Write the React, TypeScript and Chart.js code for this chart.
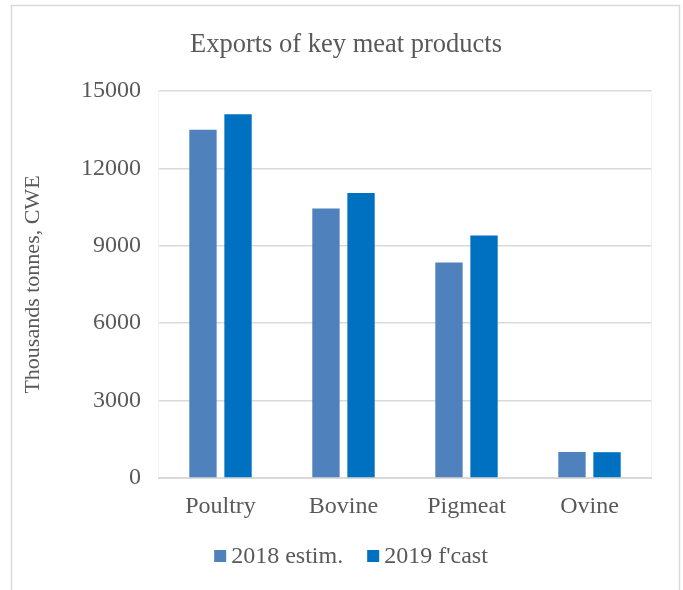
import React, { useEffect, useRef } from 'react';
import { Chart, registerables } from 'chart.js';

Chart.register(...registerables);

const categories = ['Poultry', 'Bovine', 'Pigmeat', 'Ovine'];
const series2018 = [13500, 10450, 8350, 1010];
const series2019 = [14100, 11050, 9400, 1000];
const seriesLabels = ['2018 estim.', "2019 f'cast"];
const seriesColors = ['#4f81bd', '#0070c0'];
const yTickValues = [0, 3000, 6000, 9000, 12000, 15000];
const chartTitle = 'Exports of key meat products';
const yAxisTitle = 'Thousands tonnes, CWE';

const FONT = "'Liberation Serif', 'Times New Roman', serif";
const TEXT = '#595959';

const framePlugin = {
  id: 'frame',
  beforeDraw(chart: any) {
    const { ctx } = chart;
    ctx.save();
    ctx.fillStyle = '#ffffff';
    ctx.fillRect(0, 0, chart.width, chart.height);
    ctx.strokeStyle = '#d9d9d9';
    ctx.lineWidth = 1.5;
    ctx.strokeRect(11.5, 5.5, 668, 700);
    const a = chart.chartArea;
    ctx.strokeStyle = '#f2f2f2';
    ctx.lineWidth = 1;
    ctx.strokeRect(a.left - 0.5, a.top - 0.5, a.right - a.left + 1, a.bottom - a.top + 1);
    ctx.restore();
  },
};

const titleLegendPlugin = {
  id: 'titleLegend',
  afterDraw(chart: any) {
    const { ctx } = chart;
    ctx.save();
    ctx.fillStyle = TEXT;
    ctx.font = `26.5px ${FONT}`;
    ctx.textAlign = 'center';
    ctx.textBaseline = 'middle';
    ctx.fillText(chartTitle, 346, 45);

    ctx.font = `24px ${FONT}`;
    ctx.textAlign = 'left';
    const box = 12;
    const gap = 5;
    const spacing = 24;
    const widths = seriesLabels.map((l) => ctx.measureText(l).width);
    const total = widths.reduce((s, w) => s + box + gap + w, 0) + spacing * (seriesLabels.length - 1);
    let x = 351 - total / 2;
    const cy = 556;
    seriesLabels.forEach((l, i) => {
      ctx.fillStyle = seriesColors[i];
      ctx.fillRect(x, cy - box / 2, box, box);
      ctx.fillStyle = TEXT;
      ctx.fillText(l, x + box + gap, cy + 1);
      x += box + gap + widths[i] + spacing;
    });
    ctx.restore();
  },
};

export default function App() {
  const ref = useRef<HTMLCanvasElement>(null);

  useEffect(() => {
    if (!ref.current) return;
    const chart = new Chart(ref.current, {
      type: 'bar',
      data: {
        labels: categories,
        datasets: [
          {
            label: seriesLabels[0],
            data: series2018,
            backgroundColor: seriesColors[0],
            categoryPercentage: 0.57,
            barPercentage: 0.78,
          },
          {
            label: seriesLabels[1],
            data: series2019,
            backgroundColor: seriesColors[1],
            categoryPercentage: 0.57,
            barPercentage: 0.78,
          },
        ],
      },
      options: {
        responsive: false,
        animation: false,
        devicePixelRatio: 1,
        layout: { padding: { left: 12, right: 32, top: 91, bottom: 62 } },
        plugins: {
          legend: { display: false },
          title: { display: false },
          tooltip: { enabled: false },
        },
        scales: {
          x: {
            grid: { display: false, drawTicks: false },
            border: { display: true, color: '#d9d9d9', width: 2 },
            ticks: { color: TEXT, font: { family: FONT, size: 24 }, padding: 14 },
            afterFit: (s: any) => { s.height = 50; },
          },
          y: {
            min: 0,
            max: yTickValues[yTickValues.length - 1],
            afterBuildTicks: (s: any) => { s.ticks = yTickValues.map((v) => ({ value: v })); },
            grid: { color: '#d9d9d9', lineWidth: 1.5, drawTicks: false },
            border: { display: false },
            ticks: {
              color: TEXT,
              font: { family: FONT, size: 24 },
              padding: 18,
              callback: (v: any) => String(v),
            },
            title: {
              display: true,
              text: yAxisTitle,
              color: TEXT,
              font: { family: FONT, size: 22 },
              padding: { top: 8, bottom: 0 },
            },
            afterFit: (s: any) => { s.width = 147; },
          },
        },
      },
      plugins: [framePlugin, titleLegendPlugin],
    });
    return () => chart.destroy();
  }, []);

  return (
    <div style={{ position: 'fixed', left: 0, top: 0, width: 683, height: 590, background: '#fff' }}>
      <canvas ref={ref} width={683} height={590} style={{ display: 'block', width: 683, height: 590 }} />
    </div>
  );
}
